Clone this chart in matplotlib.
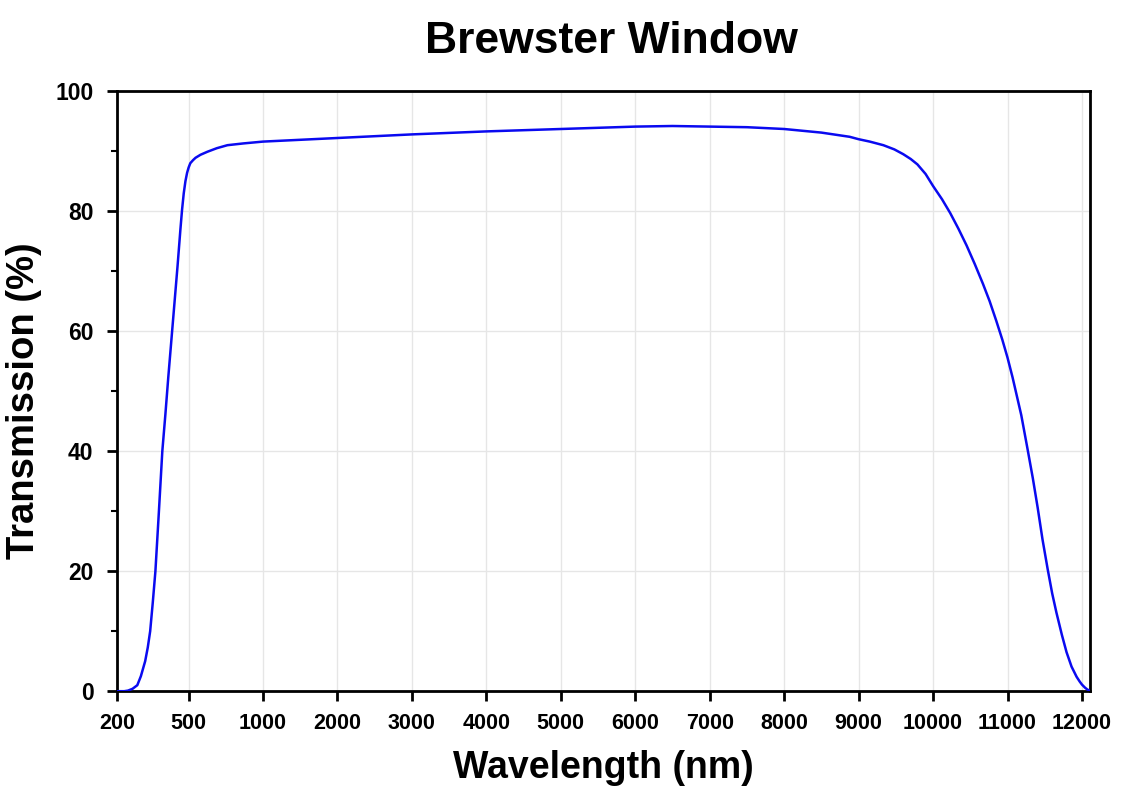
import numpy as np
import matplotlib
matplotlib.use("Agg")
import matplotlib.pyplot as plt

plt.rcParams['font.family'] = ['Liberation Sans', 'DejaVu Sans']
plt.rcParams['font.weight'] = 'bold'

# tick positions on the x axis (equally spaced, not linear in nm)
tick_nm = [200, 500, 1000, 2000, 3000, 4000, 5000, 6000,
           7000, 8000, 9000, 10000, 11000, 12000]
tick_labels = [str(t) for t in tick_nm]

# transmission curve
wavelength = [200, 230, 246, 265, 285, 300, 318, 329, 339, 350, 361, 375,
              390, 403, 415, 428, 441, 454, 466, 473, 480, 487, 494, 501,
              512, 530, 547, 580, 626, 690, 761, 870, 1000, 1500, 2000,
              3000, 4000, 5000, 6000, 6500, 7000, 7500, 8000, 8500, 8880,
              9000, 9150, 9333, 9480, 9600, 9700, 9790, 9900, 10000,
              10120, 10230, 10340, 10450, 10560, 10670, 10760, 10850,
              10930, 11000, 11068, 11185, 11270, 11340, 11405, 11470,
              11540, 11600, 11657, 11730, 11793, 11860, 11928, 11970,
              12000, 12040, 12070, 12100]
transmission = [0.0, 0.0, 0.1, 0.4, 1.0, 2.5, 5.0, 7.3, 10.0, 14.8, 20.0, 29.5,
                40.0, 46.2, 52.3, 58.5, 64.7, 70.9, 77.0, 80.3, 83.0, 85.0, 86.4, 87.3,
                88.0, 88.5, 88.9, 89.4, 89.9, 90.5, 91.0, 91.3, 91.6, 91.9, 92.2,
                92.8, 93.3, 93.7, 94.1, 94.2, 94.1, 94.0, 93.7, 93.1, 92.4,
                92.0, 91.6, 91.0, 90.3, 89.5, 88.7, 87.8, 86.2, 84.2,
                82.0, 79.7, 77.1, 74.3, 71.2, 67.9, 65.0, 61.7,
                58.6, 55.6, 52.3, 46.0, 40.3, 35.5, 30.6, 25.3,
                20.3, 16.3, 13.1, 9.4, 6.5, 4.1, 2.4, 1.6,
                1.1, 0.6, 0.3, 0.1]

# piecewise-linear axis: each labelled tick one unit apart
knots_nm = [-100] + tick_nm + [13000]
knots_pos = [-1.0, 0.04] + list(range(1, len(tick_nm))) + [len(tick_nm)]


def fwd(x):
    return np.interp(x, knots_nm, knots_pos)


def inv(p):
    return np.interp(p, knots_pos, knots_nm)


fig = plt.figure(figsize=(11.32, 8.0), dpi=100)
ax = fig.add_axes([0.1034, 0.136, 0.8595, 0.750])
ax.set_xscale('function', functions=(fwd, inv))

ax.plot(wavelength, transmission, color='#0a0af0', lw=1.8, zorder=3)

ax.set_xlim(200, 12108)
ax.set_ylim(0, 100)
ax.set_xticks(tick_nm)
ax.set_xticklabels(tick_labels)
ax.set_yticks([0, 20, 40, 60, 80, 100])
ax.set_yticks([10, 30, 50, 70, 90], minor=True)
ax.xaxis.set_minor_locator(matplotlib.ticker.NullLocator())

ax.grid(True, which='major', color='#e6e6e6', lw=1.0, zorder=0)
for s in ax.spines.values():
    s.set_linewidth(2.0)
    s.set_color('black')

ax.tick_params(axis='both', which='major', direction='out', length=7, width=2.0,
               color='black')
ax.tick_params(axis='y', which='minor', direction='out', length=4, width=1.5)
ax.tick_params(axis='x', labelsize=15.5, pad=9)
ax.tick_params(axis='y', labelsize=16.5, pad=10)
for lab in ax.get_xticklabels() + ax.get_yticklabels():
    lab.set_fontweight('bold')

ax.set_xlabel('Wavelength (nm)', fontsize=27, fontweight='bold', labelpad=11)
ax.set_ylabel('Transmission (%)', fontsize=27.5, fontweight='bold')
ax.yaxis.set_label_coords(-0.077, 0.485)
fig.text(0.54, 0.948, 'Brewster Window', ha='center', va='center',
         fontsize=32, fontweight='bold')

fig.savefig('out.png', dpi=100)
